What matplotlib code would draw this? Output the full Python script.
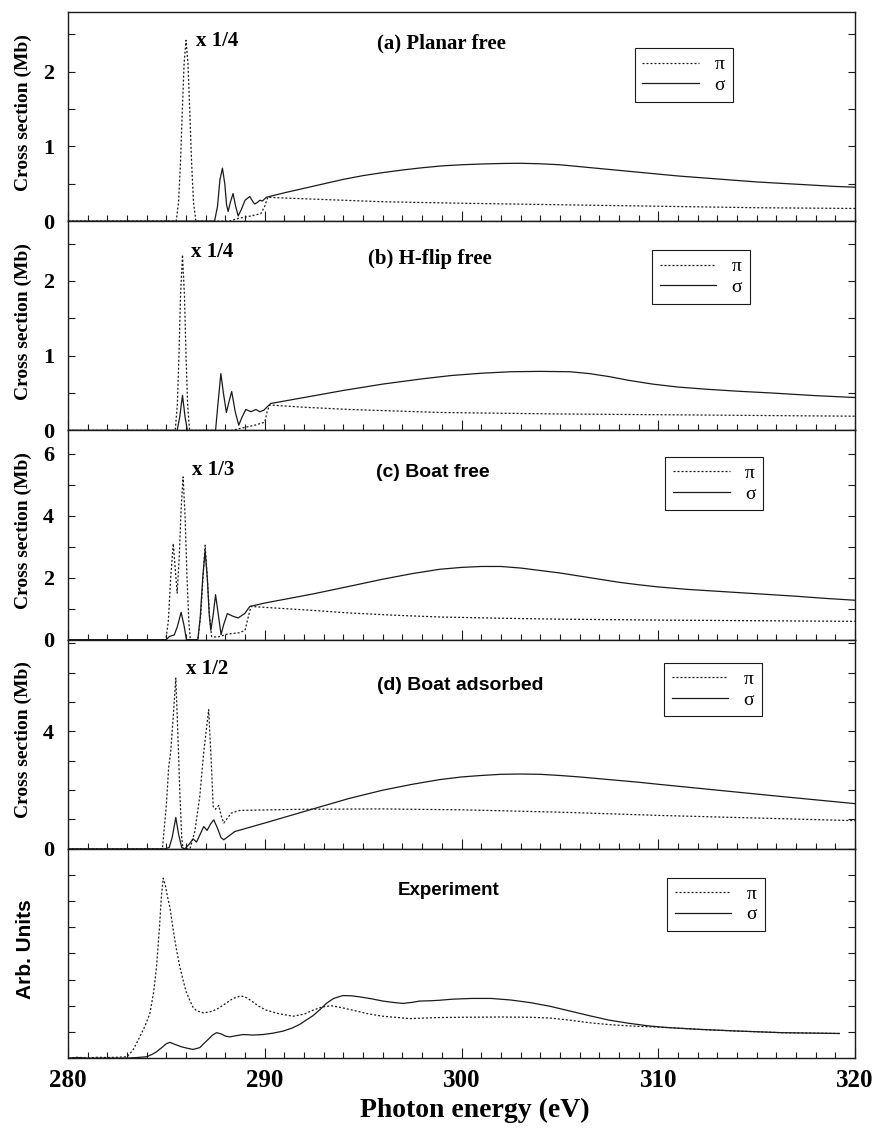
#!/usr/bin/env python3
"""C 1s polarised absorption spectra: four calculated geometries and the experiment."""

import matplotlib

matplotlib.use("Agg")
import matplotlib.pyplot as plt
from matplotlib.ticker import MultipleLocator, NullFormatter

SERIF = ["Liberation Serif", "DejaVu Serif"]
SANS = ["Liberation Sans", "DejaVu Sans"]
INK = "#1a1a1a"
DOT = (0, (1.6, 1.6))

# ---- (a) Planar free ------------------------------------------------------
A_PI_X = [280, 285.5, 285.62, 285.72, 285.8, 285.9, 286.0, 286.1, 286.2, 286.28, 286.38, 286.5,
          288.2, 288.7, 289.3, 289.8, 290.0, 290.15, 291, 293, 296, 300, 305, 310, 315, 320]
A_PI_Y = [0, 0, 0.25, 0.8, 1.4, 2.1, 2.42, 2.1, 1.4, 0.8, 0.25, 0,
          0, 0.04, 0.07, 0.1, 0.2, 0.32, 0.31, 0.29, 0.26, 0.24, 0.22, 0.2, 0.18, 0.17]
A_SG_X = [280, 287.45, 287.6, 287.72, 287.85, 287.97, 288.06, 288.14, 288.25, 288.39,
          288.52, 288.65, 288.8, 289.0, 289.24, 289.4, 289.49, 289.62, 289.75, 289.88,
          290.08, 291, 292, 293, 294, 295, 296, 297, 298, 299, 300, 301, 302, 303, 304,
          305, 306, 307, 308, 309, 310, 311, 312, 313, 314, 315, 316, 317, 318, 319, 320]
A_SG_Y = [0, 0, 0.2, 0.55, 0.71, 0.5, 0.22, 0.13, 0.25, 0.37,
          0.2, 0.07, 0.15, 0.28, 0.33, 0.26, 0.23, 0.25, 0.28, 0.27,
          0.32, 0.38, 0.44, 0.5, 0.56, 0.61, 0.65, 0.685, 0.715, 0.74, 0.755, 0.765, 0.772,
          0.775, 0.768, 0.755, 0.73, 0.705, 0.68, 0.655, 0.63, 0.605, 0.585, 0.565, 0.545,
          0.525, 0.51, 0.495, 0.48, 0.465, 0.455]

# ---- (b) H-flip free ------------------------------------------------------
B_PI_X = [280, 285.45, 285.56, 285.64, 285.72, 285.82, 285.92, 286.0, 286.08, 286.18,
          288.3, 288.8, 289.5, 290.0, 290.12, 290.25, 292, 294.3, 298.9, 305, 310, 315, 320]
B_PI_Y = [0, 0, 0.35, 1.0, 1.8, 2.35, 1.8, 1.0, 0.35, 0,
          0, 0.03, 0.07, 0.11, 0.25, 0.34, 0.31, 0.28, 0.24, 0.22, 0.21, 0.2, 0.19]
B_SG_X = [280, 285.55, 285.68, 285.82, 285.95, 286.07, 287.5, 287.62, 287.77, 287.9,
          288.05, 288.18, 288.32, 288.5, 288.68, 288.85, 289.04, 289.3, 289.55, 289.75,
          289.95, 290.3, 292, 294, 296, 298, 299.5, 301, 302.5, 304, 305.5, 306.5, 307.5,
          308.5, 309.7, 311, 312.5, 314, 315.8, 318, 320]
B_SG_Y = [0, 0, 0.18, 0.47, 0.18, 0, 0, 0.35, 0.76, 0.5,
          0.24, 0.38, 0.52, 0.25, 0.07, 0.18, 0.28, 0.25, 0.28, 0.25,
          0.27, 0.36, 0.44, 0.535, 0.62, 0.69, 0.735, 0.765, 0.785, 0.79, 0.785, 0.76, 0.72,
          0.67, 0.62, 0.58, 0.55, 0.525, 0.5, 0.465, 0.44]

# ---- (c) Boat free --------------------------------------------------------
C_PI_X = [280, 284.98, 285.1, 285.22, 285.35, 285.45, 285.55, 285.65, 285.75, 285.85,
          285.95, 286.05, 286.15, 286.22, 286.6, 286.75, 286.88, 286.97, 287.08, 287.2,
          287.3, 287.6, 288.1, 288.7, 289.0, 289.15, 289.3, 291, 292.5, 294.3, 296.5,
          298.9, 302, 305, 310, 315, 320]
C_PI_Y = [0, 0, 0.6, 2.0, 3.1, 2.3, 1.5, 2.6, 4.2, 5.25,
          4.0, 2.0, 0.5, 0, 0, 0.8, 2.2, 3.05, 2.0, 0.7,
          0.1, 0.08, 0.18, 0.22, 0.3, 0.7, 1.07, 1.0, 0.94, 0.86, 0.79,
          0.73, 0.69, 0.66, 0.63, 0.61, 0.59]
C_SG_X = [280, 285.0, 285.15, 285.4, 285.55, 285.75, 285.9, 286.02, 286.6, 286.72,
          286.85, 286.97, 287.08, 287.18, 287.26, 287.38, 287.5, 287.62, 287.78, 287.92,
          288.1, 288.4, 288.65, 288.98, 289.24, 290, 291, 292.5, 294.3, 296, 297.5, 298.9,
          300, 301, 302, 303, 304, 305, 306, 307, 308, 309, 310, 311.5, 313, 315, 317,
          318.5, 320]
C_SG_Y = [0, 0, 0.1, 0.15, 0.4, 0.88, 0.45, 0, 0, 0.7,
          2.0, 2.87, 2.0, 0.8, 0.3, 0.8, 1.45, 0.9, 0.16, 0.5,
          0.84, 0.75, 0.7, 0.84, 1.07, 1.18, 1.3, 1.48, 1.72, 1.95, 2.13, 2.27,
          2.33, 2.36, 2.36, 2.31, 2.23, 2.15, 2.05, 1.95, 1.85, 1.77, 1.7, 1.62, 1.56,
          1.48, 1.4, 1.33, 1.27]

# ---- (d) Boat adsorbed ----------------------------------------------------
D_PI_X = [280, 284.8, 285.0, 285.12, 285.22, 285.35, 285.48, 285.58, 285.68, 285.78,
          285.85, 286.2, 286.45, 286.7, 286.9, 287.15, 287.28, 287.38, 287.5, 287.66,
          287.8, 287.92, 288.3, 288.73, 292, 296, 300, 305, 310, 315, 320]
D_PI_Y = [0, 0, 1.5, 2.8, 3.3, 4.5, 5.82, 4.0, 2.0, 0.4,
          0, 0, 0.6, 1.8, 3.3, 4.74, 3.0, 1.44, 1.35, 1.48,
          1.1, 0.88, 1.22, 1.31, 1.35, 1.36, 1.33, 1.25, 1.14, 1.05, 0.96]
D_SG_X = [280, 284.95, 285.15, 285.3, 285.48, 285.62, 285.78, 285.94, 286.15, 286.36,
          286.53, 286.72, 286.9, 287.07, 287.25, 287.41, 287.6, 287.78, 287.92, 288.2,
          288.48, 290, 292.3, 294.3, 296, 297.5, 298.9, 300, 301, 302, 303, 304, 305,
          306, 307, 308, 309, 310, 311.5, 313, 314.5, 316, 318, 320]
D_SG_Y = [0, 0, 0.05, 0.4, 1.07, 0.5, 0.05, 0, 0.15, 0.34,
          0.23, 0.5, 0.76, 0.63, 0.85, 0.99, 0.7, 0.38, 0.31, 0.45,
          0.59, 0.88, 1.33, 1.72, 2.0, 2.2, 2.36, 2.45, 2.5, 2.54, 2.55, 2.54, 2.5,
          2.45, 2.39, 2.33, 2.27, 2.2, 2.1, 2.0, 1.9, 1.8, 1.67, 1.54]

# ---- Experiment -----------------------------------------------------------
E_PI_X = [280, 280.5, 281.0, 281.5, 282.0, 282.5, 283.0, 283.3, 283.65, 283.9,
          284.16, 284.35, 284.5, 284.65, 284.75, 284.84, 284.95, 285.05, 285.18, 285.35,
          285.52, 285.68, 285.85, 286.0, 286.19, 286.35, 286.53, 286.87, 287.2, 287.55,
          288.0, 288.39, 288.8, 289.1, 289.39, 289.7, 290.08, 290.7, 291.44, 292.0,
          292.45, 292.9, 293.39, 293.9, 294.48, 295.2, 296.0, 297.36, 298.88, 300,
          302, 303.5, 304.5, 305.5, 306.5, 307.5, 308.5, 310.4, 312, 313.8, 316.3, 319.2]
E_PI_Y = [0, 0.03, 0.0, 0.03, 0.02, 0.03, 0.05, 0.3, 0.81, 1.2,
          1.7, 2.5, 3.48, 5.0, 6.2, 6.88, 6.6, 6.2, 5.77, 4.9,
          4.12, 3.5, 2.98, 2.55, 2.21, 1.95, 1.81, 1.73, 1.76, 1.86,
          2.08, 2.28, 2.38, 2.3, 2.15, 1.98, 1.83, 1.7, 1.6, 1.68,
          1.83, 1.95, 2.0, 1.93, 1.83, 1.7, 1.6, 1.51, 1.55, 1.56,
          1.57, 1.56, 1.53, 1.45, 1.35, 1.28, 1.23, 1.17, 1.1, 1.04, 0.97, 0.94]
E_SG_X = [280, 280.5, 281, 282, 283, 283.5, 284.0, 284.3, 284.5, 284.8,
          285.0, 285.18, 285.45, 285.77, 286.1, 286.36, 286.7, 286.9, 287.12, 287.35,
          287.55, 287.8, 288.0, 288.22, 288.5, 288.9, 289.4, 289.92, 290.4, 290.93,
          291.4, 291.78, 292.1, 292.45, 292.8, 293.13, 293.5, 293.97, 294.4, 294.82,
          295.4, 296.0, 296.5, 297.02, 297.5, 297.87, 298.4, 298.88, 299.5, 300.5,
          301.5, 302.5, 303.5, 304.5, 305.5, 306.5, 307.5, 308.5, 309.5, 310.4, 312,
          313.8, 316.3, 319.2]
E_SG_Y = [0, 0.02, 0, 0, 0, 0.02, 0.05, 0.15, 0.24, 0.42,
          0.55, 0.6, 0.52, 0.43, 0.37, 0.33, 0.4, 0.55, 0.71, 0.88,
          0.97, 0.92, 0.84, 0.81, 0.85, 0.9, 0.88, 0.9, 0.95, 1.03,
          1.15, 1.29, 1.45, 1.62, 1.85, 2.09, 2.28, 2.39, 2.38, 2.34,
          2.27, 2.18, 2.13, 2.09, 2.13, 2.18, 2.19, 2.21, 2.25, 2.28,
          2.28, 2.22, 2.12, 1.98, 1.8, 1.62, 1.45, 1.33, 1.23, 1.17, 1.1,
          1.04, 0.97, 0.94]

PANELS = [
    dict(pi=(A_PI_X, A_PI_Y), sg=(A_SG_X, A_SG_Y), ylim=2.8, major=1, minor=0.5,
         title="(a) Planar free", tfont=SERIF, tsize=15, tpos=(0.474, 0.85),
         scale=("x 1/4", 286.53, 2.41), leg=(0.72, 0.828), ylabel="Cross section (Mb)"),
    dict(pi=(B_PI_X, B_PI_Y), sg=(B_SG_X, B_SG_Y), ylim=2.8, major=1, minor=0.5,
         title="(b) H-flip free", tfont=SERIF, tsize=15, tpos=(0.46, 0.82),
         scale=("x 1/4", 286.23, 2.39), leg=(0.742, 0.862), ylabel="Cross section (Mb)"),
    dict(pi=(C_PI_X, C_PI_Y), sg=(C_SG_X, C_SG_Y), ylim=6.75, major=2, minor=1,
         title="(c) Boat free", tfont=SANS, tsize=14, tpos=(0.463, 0.80),
         scale=("x 1/3", 286.28, 5.48), leg=(0.759, 0.874), ylabel="Cross section (Mb)"),
    dict(pi=(D_PI_X, D_PI_Y), sg=(D_SG_X, D_SG_Y), ylim=7.13, major=4, minor=1,
         title="(d) Boat adsorbed", tfont=SANS, tsize=14, tpos=(0.498, 0.78),
         scale=("x 1/2", 285.99, 6.13), leg=(0.757, 0.89), ylabel="Cross section (Mb)"),
    dict(pi=(E_PI_X, E_PI_Y), sg=(E_SG_X, E_SG_Y), ylim=8, major=1, minor=None,
         title="Experiment", tfont=SANS, tsize=13.5, tpos=(0.483, 0.80),
         scale=None, leg=(0.761, 0.863), ylabel="Arb. Units"),
]


def _style_axis(ax, p, last):
    ax.set_xlim(280, 320)
    ax.set_ylim(0, p["ylim"])
    for side in ("left", "right", "bottom", "top"):
        ax.spines[side].set_color(INK)
        ax.spines[side].set_linewidth(1.0)

    ax.xaxis.set_major_locator(MultipleLocator(10))
    ax.xaxis.set_minor_locator(MultipleLocator(1))
    ax.yaxis.set_major_locator(MultipleLocator(p["major"]))
    if p["minor"]:
        ax.yaxis.set_minor_locator(MultipleLocator(p["minor"]))

    ax.tick_params(axis="x", which="both", direction="in", top=False, bottom=True,
                   color=INK, width=0.8)
    ax.tick_params(axis="x", which="major", length=7)
    ax.tick_params(axis="x", which="minor", length=4)
    ax.tick_params(axis="y", which="both", direction="in", left=True, right=True,
                   length=5, color=INK, width=0.8, pad=10)

    if p["ylabel"] == "Arb. Units":
        ax.yaxis.set_major_formatter(NullFormatter())
        ax.set_ylabel(p["ylabel"], family=SANS, weight="bold", fontsize=15)
        ax.yaxis.set_label_coords(-0.042, 0.52)
    else:
        for lab in ax.get_yticklabels():
            lab.set_fontfamily(SERIF)
            lab.set_fontweight("bold")
            lab.set_fontsize(16)
        ax.set_ylabel(p["ylabel"], family=SERIF, weight="bold", fontsize=14)
        ax.yaxis.set_label_coords(-0.046, 0.52)

    if last:
        ax.tick_params(axis="x", labelsize=18, pad=8)
        for lab in ax.get_xticklabels():
            lab.set_fontfamily(SERIF)
            lab.set_fontweight("bold")
    else:
        ax.tick_params(axis="x", labelbottom=False)


def main():
    plt.rcParams.update({"font.family": SERIF, "axes.unicode_minus": False})
    fig, axes = plt.subplots(5, 1, figsize=(8.77, 11.28), dpi=100)
    fig.subplots_adjust(left=0.0775, right=0.975, top=0.9894, bottom=0.062, hspace=0)

    for i, (ax, p) in enumerate(zip(axes, PANELS)):
        last = i == len(PANELS) - 1
        ax.plot(*p["pi"], color=INK, lw=0.9, ls=DOT, label="π")
        ax.plot(*p["sg"], color=INK, lw=0.9, label="σ")
        _style_axis(ax, p, last)

        ax.text(*p["tpos"], p["title"], transform=ax.transAxes, ha="center", va="center",
                family=p["tfont"], weight="bold", fontsize=p["tsize"])
        if p["scale"]:
            label, sx, sy = p["scale"]
            ax.text(sx, sy, label, ha="left", va="center", family=SERIF,
                    weight="bold", fontsize=15)

        leg = ax.legend(loc="upper left", bbox_to_anchor=p["leg"], borderaxespad=0,
                        prop=dict(family=SERIF, size=14), frameon=True, fancybox=False,
                        framealpha=1, edgecolor=INK, handlelength=2.9,
                        handletextpad=0.8, labelspacing=0.15, borderpad=0.4)
        leg.get_frame().set_linewidth(0.8)

    fig.text(475 / 877, 1 - 1110 / 1128, "Photon energy (eV)", ha="center", va="center",
             family=SERIF, weight="bold", fontsize=20)

    fig.savefig("out.png", dpi=100, facecolor="white")
    plt.close(fig)


if __name__ == "__main__":
    main()
